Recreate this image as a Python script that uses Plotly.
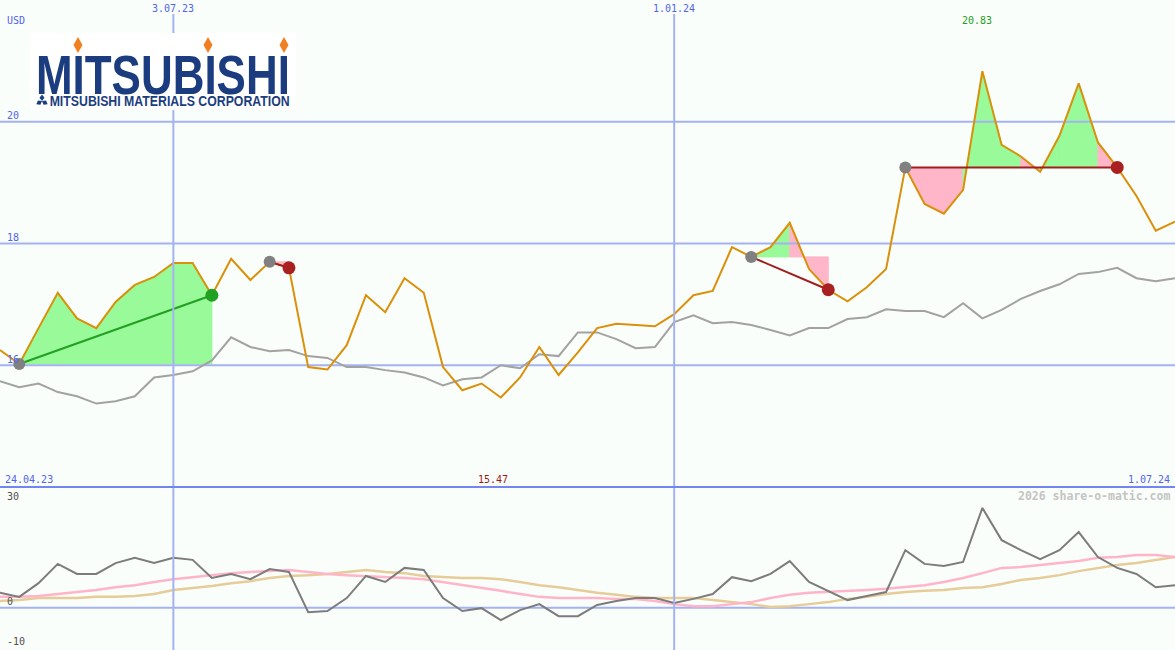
import math
import pandas as pd
import plotly.graph_objects as go

# ---------------- data ----------------
start_date = "2023-05-01"
n_weeks = 62
dates = pd.date_range(start_date, periods=n_weeks, freq="7D")

price = [16.25, 16.02, 16.61, 17.19, 16.77, 16.61, 17.04, 17.32, 17.45, 17.68,
         17.68, 17.15, 17.75, 17.40, 17.70, 17.60, 15.97, 15.93, 16.33, 17.15,
         16.87, 17.43, 17.19, 15.97, 15.59, 15.70, 15.47, 15.80, 16.30, 15.84,
         16.21, 16.61, 16.68, 16.66, 16.64, 16.84, 17.15, 17.22, 17.94, 17.78,
         17.94, 18.34, 17.58, 17.24, 17.05, 17.28, 17.58, 19.25, 18.65, 18.49,
         18.88, 20.83, 19.62, 19.43, 19.18, 19.77, 20.63, 19.66, 19.25, 18.78,
         18.21, 18.36]

benchmark = [15.74, 15.64, 15.70, 15.56, 15.49, 15.37, 15.41, 15.49, 15.80, 15.84,
             15.90, 16.08, 16.46, 16.30, 16.23, 16.25, 16.15, 16.12, 15.97, 15.97,
             15.92, 15.88, 15.80, 15.67, 15.77, 15.80, 16.00, 15.95, 16.18, 16.15,
             16.54, 16.54, 16.43, 16.28, 16.30, 16.71, 16.82, 16.69, 16.71, 16.66,
             16.58, 16.49, 16.61, 16.61, 16.76, 16.79, 16.92, 16.89, 16.89, 16.79,
             17.02, 16.77, 16.91, 17.09, 17.22, 17.33, 17.50, 17.53, 17.60, 17.43,
             17.38, 17.43]

momentum = [3.7, 2.7, 6.1, 10.9, 8.4, 8.4, 11.1, 12.4, 11.1, 12.4,
            11.9, 7.4, 8.4, 7.1, 9.6, 8.9, -1.1, -0.8, 2.4, 7.9,
            6.4, 9.9, 9.4, 2.4, -0.8, -0.1, -3.1, -0.6, 0.9, -2.1,
            -2.1, 0.7, 1.7, 2.4, 2.4, 1.2, 2.2, 3.4, 7.6, 6.6,
            8.4, 11.6, 6.4, 4.2, 1.9, 2.9, 3.9, 14.3, 10.9, 10.4,
            11.4, 24.8, 16.8, 14.3, 12.1, 14.3, 18.8, 12.6, 9.9, 8.4,
            5.1, 5.6]

momentum_fast = [2.7, 2.7, 2.9, 3.4, 3.9, 4.4, 5.1, 5.6, 6.4, 7.1,
                 7.6, 8.1, 8.6, 8.9, 9.1, 9.4, 8.9, 8.4, 8.1, 7.9,
                 7.6, 7.4, 7.1, 6.4, 5.6, 4.9, 4.2, 3.4, 2.7, 2.4,
                 2.4, 2.4, 2.2, 2.2, 1.7, 0.9, 0.4, 0.4, 0.9, 1.4,
                 2.4, 3.2, 3.7, 3.9, 4.2, 4.4, 4.7, 5.1, 5.6, 6.4,
                 7.4, 8.6, 9.9, 10.1, 10.6, 11.1, 11.6, 12.4, 12.6, 13.1,
                 13.1, 12.6]

momentum_slow = [1.7, 1.9, 2.4, 2.4, 2.4, 2.7, 2.7, 2.9, 3.4, 4.4,
                 4.9, 5.4, 6.1, 6.6, 7.4, 7.9, 8.1, 8.4, 8.9, 9.4,
                 8.9, 8.6, 7.9, 7.6, 7.4, 7.4, 7.1, 6.4, 5.6, 5.1,
                 4.4, 3.7, 3.2, 2.7, 2.4, 2.4, 2.4, 1.9, 1.4, 0.9,
                 0.2, 0.4, 0.9, 1.4, 2.2, 2.7, 3.4, 3.9, 4.2, 4.4,
                 4.9, 5.1, 5.9, 6.9, 7.4, 8.1, 9.1, 9.9, 10.6, 11.1,
                 11.9, 12.6]

# trend signals: (start index, end index)
signals = [(1, 11), (14, 15), (39, 43), (47, 58)]

upper_ticks = [16, 18, 20]
lower_ticks = [30, 0, -10]
date_marks = ["2023-07-03", "2024-01-01"]
date_mark_labels = ["3.07.23", "1.01.24"]
period_labels = ["24.04.23", "1.07.24"]
currency = "USD"
watermark = "2026 share-o-matic.com"
logo_main = "MITSUBISHI"
logo_sub = "MITSUBISHI MATERIALS CORPORATION"

# ---------------- styling ----------------
W, H = 1175, 650
BG = "#FAFEFA"
GRID = "#A4B2F2"
SEP = "#7585F0"
LBL = "#5064F0"
ORANGE = "#DA900A"
GREEN_FILL = "#98FA98"
PINK_FILL = "#FFB6C8"
NAVY = "#1B3D80"


def px(x):
    return x / W


def py(y):
    return 1 - y / H


fig = go.Figure()

# fills for signals (per segment, colour from the segment end)
for s, e in signals:
    base = price[s]
    for i in range(s, e):
        col = GREEN_FILL if price[i + 1] > base else PINK_FILL
        fig.add_trace(go.Scatter(
            x=[dates[i], dates[i + 1], dates[i + 1], dates[i], dates[i]],
            y=[price[i], price[i + 1], base, base, price[i]],
            mode="lines", fill="toself", fillcolor=col,
            line=dict(width=1, color=col), hoverinfo="skip", showlegend=False,
            xaxis="x", yaxis="y"))

# horizontal grid lines above fills
for v in upper_ticks:
    fig.add_trace(go.Scatter(x=[dates[0], dates[-1]], y=[v, v], mode="lines",
                             line=dict(color=GRID, width=2), hoverinfo="skip",
                             showlegend=False, xaxis="x", yaxis="y"))
fig.add_trace(go.Scatter(x=[dates[0], dates[-1]], y=[0, 0], mode="lines",
                         line=dict(color=GRID, width=2), hoverinfo="skip",
                         showlegend=False, xaxis="x2", yaxis="y2"))

# benchmark and price
fig.add_trace(go.Scatter(x=dates, y=benchmark, mode="lines",
                         line=dict(color="#A2A2A2", width=2),
                         showlegend=False, xaxis="x", yaxis="y"))
fig.add_trace(go.Scatter(x=dates, y=price, mode="lines",
                         line=dict(color=ORANGE, width=2),
                         showlegend=False, xaxis="x", yaxis="y"))

# signal lines and markers
for s, e in signals:
    up = price[e] > price[s]
    lc = "#22A022" if up else "#A01E1E"
    fig.add_trace(go.Scatter(x=[dates[s], dates[e]], y=[price[s], price[e]],
                             mode="lines", line=dict(color=lc, width=2),
                             showlegend=False, xaxis="x", yaxis="y"))
    fig.add_trace(go.Scatter(x=[dates[s]], y=[price[s]], mode="markers",
                             marker=dict(color="#808080", size=12),
                             showlegend=False, xaxis="x", yaxis="y"))
    fig.add_trace(go.Scatter(x=[dates[e]], y=[price[e]], mode="markers",
                             marker=dict(color="#22A022" if up else "#A82020", size=13),
                             showlegend=False, xaxis="x", yaxis="y"))

# lower panel
fig.add_trace(go.Scatter(x=dates, y=momentum_slow, mode="lines",
                         line=dict(color="#E6CC98", width=2.5),
                         showlegend=False, xaxis="x2", yaxis="y2"))
fig.add_trace(go.Scatter(x=dates, y=momentum_fast, mode="lines",
                         line=dict(color="#FFB4CA", width=2.5),
                         showlegend=False, xaxis="x2", yaxis="y2"))
fig.add_trace(go.Scatter(x=dates, y=momentum, mode="lines",
                         line=dict(color="#7C7C7C", width=2),
                         showlegend=False, xaxis="x2", yaxis="y2"))

split = py(487)
axis_common = dict(showgrid=False, zeroline=False, showticklabels=False,
                   ticks="", showline=False, fixedrange=True)
fig.update_layout(
    width=W, height=H,
    margin=dict(l=0, r=0, t=0, b=0),
    paper_bgcolor=BG, plot_bgcolor=BG,
    showlegend=False,
    xaxis=dict(domain=[0, 1], range=[dates[0], dates[-1]], anchor="y", **axis_common),
    yaxis=dict(domain=[split, 1], range=[14, 22], anchor="x", **axis_common),
    xaxis2=dict(domain=[0, 1], range=[dates[0], dates[-1]], anchor="y2", **axis_common),
    yaxis2=dict(domain=[0, split], range=[-10.5, 30], anchor="x2", **axis_common),
)

shapes = []
for d in date_marks:
    shapes.append(dict(type="line", xref="x", yref="paper", x0=d, x1=d,
                       y0=0, y1=py(14), line=dict(color=GRID, width=2), layer="above"))
shapes.append(dict(type="line", xref="paper", yref="paper", x0=0, x1=1,
                   y0=split, y1=split, line=dict(color=SEP, width=2), layer="above"))
shapes.append(dict(type="rect", xref="paper", yref="paper", x0=px(30), x1=px(296),
                   y0=py(110), y1=py(33), fillcolor="#FFFFFF", line=dict(width=0),
                   layer="above"))


def diamond(cx, cy, hw, hh, color):
    pts = [(cx, cy - hh), (cx + hw, cy), (cx, cy + hh), (cx - hw, cy)]
    path = "M " + " L ".join(f"{px(a):.5f},{py(b):.5f}" for a, b in pts) + " Z"
    return dict(type="path", xref="paper", yref="paper", path=path,
                fillcolor=color, line=dict(width=0), layer="above")


def petal(cx, cy, ang, L, Wd, color):
    ca, sa = math.cos(math.radians(ang)), math.sin(math.radians(ang))
    mx, my = cx + ca * L / 2, cy - sa * L / 2
    tx, ty = cx + ca * L, cy - sa * L
    ox, oy = -sa * Wd / 2, -ca * Wd / 2
    pts = [(cx, cy), (mx + ox, my + oy), (tx, ty), (mx - ox, my - oy)]
    path = "M " + " L ".join(f"{px(a):.5f},{py(b):.5f}" for a, b in pts) + " Z"
    return dict(type="path", xref="paper", yref="paper", path=path,
                fillcolor=color, line=dict(width=0), layer="above")


for xc in (78, 208, 284):
    shapes.append(diamond(xc, 45, 4.5, 8, "#F28022"))
for ang in (90, 210, 330):
    shapes.append(petal(42, 101, ang, 6.5, 5, NAVY))
fig.update_layout(shapes=shapes)

MONO = "DejaVu Sans Mono"
ann = []


def label(text, x, y, color, xanchor="left", size=10, family=MONO, weight="normal"):
    ann.append(dict(text=text, xref="paper", yref="paper",
                    x=px(x), y=py(y), xanchor=xanchor, yanchor="middle",
                    showarrow=False,
                    font=dict(family=family, size=size, color=color, weight=weight)))


label(currency, 5, 20, LBL)
for d, t in zip(date_marks, date_mark_labels):
    ann.append(dict(text=t, xref="x", yref="paper", x=d, y=py(9), xanchor="center",
                    yanchor="middle", showarrow=False,
                    font=dict(family=MONO, size=10, color=LBL)))
for v in upper_ticks:
    ann.append(dict(text=str(v), xref="paper", yref="y", x=px(5), y=v, xanchor="left",
                    yanchor="middle", yshift=6, showarrow=False,
                    font=dict(family=MONO, size=10, color=LBL)))
label(period_labels[0], 3, 479, LBL)
label(period_labels[1], 1172, 479, LBL, xanchor="right")

imax = max(range(n_weeks), key=lambda i: price[i])
imin = min(range(n_weeks), key=lambda i: price[i])
ann.append(dict(text=f"{price[imax]:.2f}", xref="x", yref="paper", x=dates[imax], y=py(21),
                xanchor="center", yanchor="middle", xshift=-5, showarrow=False,
                font=dict(family=MONO, size=10, color="#22A022")))
ann.append(dict(text=f"{price[imin]:.2f}", xref="x", yref="paper", x=dates[imin], y=py(479),
                xanchor="center", yanchor="middle", xshift=-8, showarrow=False,
                font=dict(family=MONO, size=10, color="#A01818")))
label(watermark, 1172, 496, "#C4C4C4", xanchor="right", size=11.5, weight="bold")

label(str(lower_ticks[0]), 5, 496, "#505050")
for v in lower_ticks[1:]:
    ann.append(dict(text=str(v), xref="paper", yref="y2", x=px(5), y=v, xanchor="left",
                    yanchor="middle", yshift=6, showarrow=False,
                    font=dict(family=MONO, size=10, color="#505050")))

# logo text (squeezed to a condensed width in the page script below;
# annotation text is centred, so both are centre-anchored)
LOGO_FONT = "Liberation Sans, Arial, sans-serif"
ann.append(dict(text=logo_main, xref="paper", yref="paper", x=px(163), y=py(75),
                xanchor="center", yanchor="middle", showarrow=False,
                font=dict(family=LOGO_FONT, size=55, color=NAVY, weight="bold")))
ann.append(dict(text=logo_sub, xref="paper", yref="paper",
                x=px(170), y=py(101), xanchor="center", yanchor="middle", showarrow=False,
                font=dict(family=LOGO_FONT, size=14, color=NAVY, weight="bold")))

fig.update_layout(annotations=ann)

post_js = """
document.body.style.margin = '0px';
document.body.style.overflow = 'hidden';
var gd = document.getElementById('{plot_id}');
gd.querySelectorAll('text.annotation-text').forEach(function (t) {
  var s = t.textContent;
  if (s === '%s') { t.setAttribute('textLength', '254'); t.setAttribute('lengthAdjust', 'spacingAndGlyphs'); }
  if (s === '%s') { t.setAttribute('textLength', '240'); t.setAttribute('lengthAdjust', 'spacingAndGlyphs'); }
});
""" % (logo_main, logo_sub)

fig.write_html("out.html", post_script=post_js, config={"displayModeBar": False})
